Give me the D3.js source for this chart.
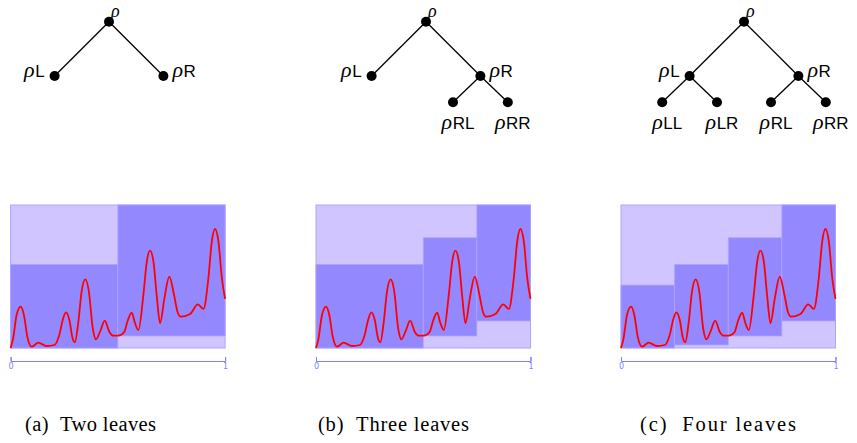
<!DOCTYPE html>
<html>
<head>
<meta charset="utf-8">
<script src="https://cdn.jsdelivr.net/npm/d3@7"></script>
<style>
  body { margin: 0; background: #fff; }
  svg { display: block; }
</style>
</head>
<body>
<div id="chart"></div>
<script>
// red curve (x in [0,1], y in [0,1])
const curveX = [0, 0.012, 0.028, 0.047, 0.062, 0.078, 0.098, 0.129, 0.168, 0.204,
                0.227, 0.243, 0.258, 0.274, 0.289, 0.300,
                0.316, 0.331, 0.348, 0.365, 0.383, 0.398,
                0.417, 0.439, 0.460, 0.479, 0.502, 0.529, 0.547, 0.565, 0.580, 0.596,
                0.619, 0.635, 0.650, 0.666, 0.681, 0.697,
                0.717, 0.740, 0.762, 0.778, 0.793, 0.837, 0.873, 0.899,
                0.922, 0.938, 0.953, 0.969, 0.985, 1.0];
const curveY = [0, 0.068, 0.231, 0.289, 0.231, 0.079, 0.009, 0.037, 0.014, 0.021,
                0.091, 0.196, 0.249, 0.196, 0.068, 0.040,
                0.184, 0.394, 0.480, 0.394, 0.138, 0.061,
                0.114, 0.191, 0.114, 0.086, 0.086, 0.110, 0.196, 0.247, 0.173, 0.126,
                0.371, 0.604, 0.681, 0.604, 0.371, 0.173,
                0.347, 0.499, 0.371, 0.254, 0.219, 0.238, 0.305, 0.273,
                0.487, 0.744, 0.832, 0.744, 0.487, 0.343];

// leaves of each tree and their boxes
const treeNodes = [
  ["", "L", "R"],
  ["", "L", "R", "RL", "RR"],
  ["", "L", "R", "LL", "LR", "RL", "RR"]
];
const regionX0 = [[0, 0.5], [0, 0.5, 0.75], [0, 0.25, 0.5, 0.75]];
const regionX1 = [[0.5, 1], [0.5, 0.75, 1], [0.25, 0.5, 0.75, 1]];
const regionLo = [[0, 0.084], [0, 0.084, 0.189], [0, 0.021, 0.084, 0.189]];
const regionHi = [[0.585, 1], [0.585, 0.771, 1], [0.44, 0.585, 0.771, 1]];
const axisTicks = [0, 1];
const captionTag = ["(a)", "(b)", "(c)"];
const captionText = ["Two leaves", "Three leaves", "Four leaves"];

const width = 857, height = 443;
const panelLeft = [10.6, 316, 621];
const plotW = 214.5, plotTop = 205, plotBottom = 348, axisY = 361;
const rootX = [109, 426, 744];
const levelY = [21.7, 76, 102.3];
const spread = [54.4, 27.4];
const captionX = [25, 318, 640];
const captionW = [131, 151, 156];

const serif = "'Liberation Serif', 'Times New Roman', Times, 'DejaVu Serif', serif";
const sans = "'Liberation Sans', Arial, Helvetica, sans-serif";
const lightFill = "#d1c5ff", darkFill = "#9488ff", edge = "#afa4ff", axisColor = "#7f7fff";

const svg = d3.select("#chart").append("svg")
    .attr("width", width)
    .attr("height", height);

const y = d3.scaleLinear().domain([0, 1]).range([plotBottom, plotTop]);

treeNodes.forEach((nodes, p) => {
    const g = svg.append("g");

    // tree positions from the path of each node
    const pos = path => {
        let x = rootX[p];
        for (let i = 0; i < path.length; i++) x += (path[i] === "L" ? -1 : 1) * spread[i];
        return { path, x, y: levelY[path.length] };
    };
    const pts = nodes.map(pos);
    const byPath = {};
    pts.forEach(d => byPath[d.path] = d);

    g.selectAll("line.link")
        .data(pts.filter(d => d.path.length > 0))
        .enter().append("line")
        .attr("class", "link")
        .attr("x1", d => byPath[d.path.slice(0, -1)].x)
        .attr("y1", d => byPath[d.path.slice(0, -1)].y)
        .attr("x2", d => d.x)
        .attr("y2", d => d.y)
        .style("stroke", "#000")
        .style("stroke-width", 1.3);

    g.selectAll("circle.node")
        .data(pts)
        .enter().append("circle")
        .attr("class", "node")
        .attr("cx", d => d.x)
        .attr("cy", d => d.y)
        .attr("r", 5)
        .style("fill", "#000");

    const labels = g.selectAll("text.lab")
        .data(pts)
        .enter().append("text")
        .attr("class", "lab")
        .style("font-family", sans)
        .style("font-size", "17px")
        .attr("x", d => {
            if (d.path.length === 0) return d.x + 2;
            if (d.path.length === 1) return d.path === "L" ? d.x - 10 : d.x + 9;
            return d.x + 5;
        })
        .attr("y", d => d.path.length === 0 ? 16.5 : d.path.length === 1 ? d.y + 0.5 : 128.5)
        .attr("text-anchor", d => d.path.length === 0 ? "start"
            : d.path.length === 1 ? (d.path === "L" ? "end" : "start") : "middle");
    labels.append("tspan")
        .style("font-family", serif)
        .style("font-style", "italic")
        .style("font-size", d => d.path.length === 0 ? "18px" : "22px")
        .text("\u03c1");
    labels.append("tspan").attr("dx", 0.5).text(d => d.path);

    // plot
    const x = d3.scaleLinear().domain([0, 1]).range([panelLeft[p], panelLeft[p] + plotW]);

    g.append("rect")
        .attr("x", x(0)).attr("y", y(1))
        .attr("width", x(1) - x(0)).attr("height", y(0) - y(1))
        .style("fill", lightFill)
        .style("stroke", edge)
        .style("stroke-width", 1);

    const regions = regionX0[p].map((x0, i) => ({
        x0, x1: regionX1[p][i], lo: regionLo[p][i], hi: regionHi[p][i]
    }));
    g.selectAll("rect.region")
        .data(regions)
        .enter().append("rect")
        .attr("class", "region")
        .attr("x", d => x(d.x0))
        .attr("y", d => y(d.hi))
        .attr("width", d => x(d.x1) - x(d.x0))
        .attr("height", d => y(d.lo) - y(d.hi))
        .style("fill", darkFill)
        .style("stroke", edge)
        .style("stroke-width", 0.8);

    const line = d3.line()
        .x((d, i) => x(curveX[i]))
        .y(d => y(d))
        .curve(d3.curveMonotoneX);
    g.append("path")
        .datum(curveY)
        .attr("d", line)
        .style("fill", "none")
        .style("stroke", "#ff0000")
        .style("stroke-width", 1.8);

    const axis = d3.axisBottom(x)
        .tickValues(axisTicks)
        .tickFormat(d3.format("d"))
        .tickSizeInner(-4)
        .tickSizeOuter(-4)
        .tickPadding(2);
    const ag = g.append("g")
        .attr("transform", `translate(0,${axisY})`)
        .call(axis);
    ag.select(".domain").style("stroke", axisColor);
    ag.selectAll(".tick line").style("stroke", axisColor);
    ag.selectAll(".tick text")
        .style("fill", axisColor)
        .style("font-family", "'DejaVu Sans', sans-serif")
        .style("font-size", "8px");

    // caption
    g.append("text")
        .attr("x", captionX[p])
        .attr("y", 431)
        .attr("textLength", captionW[p])
        .attr("lengthAdjust", "spacing")
        .style("font-family", serif)
        .style("font-size", "20.5px")
        .style("fill", "#000")
        .text(captionTag[p] + "\u00a0\u00a0" + captionText[p]);
});
</script>
</body>
</html>
